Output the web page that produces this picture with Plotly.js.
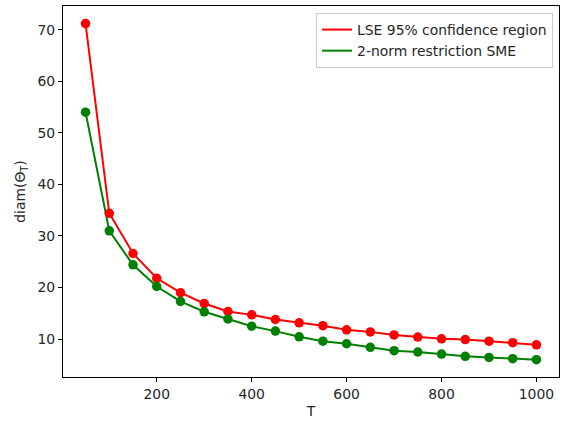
<!DOCTYPE html>
<html>
<head>
<meta charset="utf-8">
<script src="https://cdn.plot.ly/plotly-3.0.1.min.js"></script>
<style>html,body{margin:0;padding:0;background:#fff;}#chart{width:562px;height:422px;}</style>
</head>
<body>
<div id="chart"></div>
<script>
const T = [50,100,150,200,250,300,350,400,450,500,550,600,650,700,750,800,850,900,950,1000];
const lseDiam = [71.2,34.4,26.6,21.8,19.0,16.9,15.35,14.7,13.8,13.15,12.6,11.8,11.4,10.8,10.4,10.05,9.9,9.6,9.3,8.9];
const smeDiam = [54.0,31.0,24.4,20.2,17.3,15.3,13.9,12.5,11.55,10.45,9.6,9.1,8.4,7.75,7.5,7.1,6.65,6.45,6.2,6.0];
const seriesNames = ['LSE 95% confidence region','2-norm restriction SME'];
const xTicks = [200,400,600,800,1000];
const yTicks = [10,20,30,40,50,60,70];

const red = '#ff0000', green = '#008000';
const traces = [
  {x:T, y:lseDiam, mode:'lines', name:seriesNames[0], line:{color:red,width:2}},
  {x:T, y:smeDiam, mode:'lines', name:seriesNames[1], line:{color:green,width:2}},
  {x:T, y:lseDiam, mode:'markers', showlegend:false, marker:{color:red,size:9.5}},
  {x:T, y:smeDiam, mode:'markers', showlegend:false, marker:{color:green,size:9.5}}
];
const font = {family:'DejaVu Sans', size:13.9, color:'#262626'};
const layout = {
  width:562, height:422,
  margin:{l:63,r:3,t:6,b:45},
  paper_bgcolor:'#fff', plot_bgcolor:'#fff',
  font:font,
  showlegend:true,
  legend:{x:0.988, y:0.981, xanchor:'right', yanchor:'top', bgcolor:'#fff', bordercolor:'#cccccc', borderwidth:1, itemwidth:30, font:font, tracegroupgap:0},
  xaxis:{range:[2.5,1047.5], tickvals:xTicks, ticks:'outside', ticklen:4, tickcolor:'#000', tickfont:font, showgrid:false, zeroline:false, showline:true, mirror:true, linecolor:'#000', linewidth:1, automargin:false, title:{text:'T', font:font, standoff:5}},
  yaxis:{range:[2.65,74.6], tickvals:yTicks, ticks:'outside', ticklen:4, tickcolor:'#000', tickfont:font, showgrid:false, zeroline:false, showline:true, mirror:true, linecolor:'#000', linewidth:1, automargin:false, title:{text:'diam(Θ<sub>T</sub>)', font:font, standoff:8}}
};
Plotly.newPlot('chart', traces, layout, {displayModeBar:false, staticPlot:true});
</script>
</body>
</html>
